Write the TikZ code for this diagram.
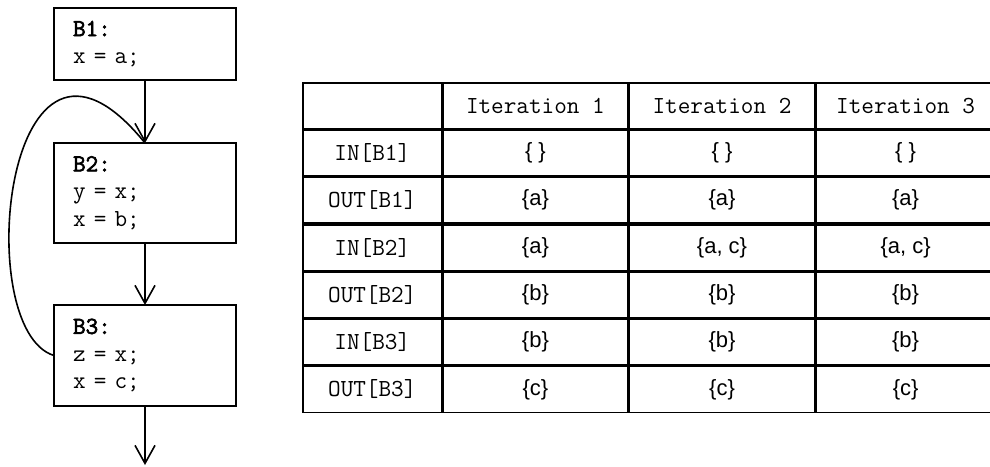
\documentclass[tikz,border=0pt]{standalone}
\usepackage{fontspec}
\setsansfont{Liberation Sans}
\setmonofont{Latin Modern Mono}[AutoFakeBold=2.5]
\usetikzlibrary{positioning,matrix,arrows.meta}

\tikzset{
  blk/.style={draw, line width=1.6pt, outer sep=0pt, minimum width=182pt, text width=144pt,
    inner xsep=19pt, align=left, font=\ttfamily\fontsize{24.5pt}{27.5pt}\selectfont},
  arr/.style={-{Straight Barb[length=18pt,width=20pt]}, line width=1.6pt},
  mono/.style={font=\ttfamily\fontsize{24.5pt}{27pt}\selectfont}
}

\begin{document}
\begin{tikzpicture}[x=1pt, y=-1pt]
\useasboundingbox (0,0) rectangle (990,466);
\node[blk, minimum height=72pt] (b1) at (145,44) {\textbf{B1:}\\x = a;};
\node[blk, minimum height=100pt, below=63pt of b1] (b2) {\textbf{B2:}\\y = x;\\x = b;};
\node[blk, minimum height=101pt, below=62pt of b2] (b3) {\textbf{B3:}\\z = x;\\x = c;};
\coordinate[below=59pt of b3] (exit);
\draw[arr] (b1) -- (b2);
\draw[arr] (b2) -- (b3);
\draw[arr] (b3) -- (exit);
\draw[line width=1.6pt] (b3.west) .. controls (-30,330) and (5,-30) .. (b2.north);

\matrix (tab) [matrix of nodes, nodes in empty cells, anchor=north west, inner sep=0pt, outer sep=0pt,
    column sep=0pt, row sep=0pt,
    nodes={draw, anchor=center, line width=1.6pt, outer sep=0pt, minimum height=45.7pt,
      font=\sffamily\fontsize{22pt}{26pt}\selectfont},
    column 1/.style={nodes={minimum width=139pt, mono}},
    column 2/.style={nodes={minimum width=184pt}},
    column 3/.style={nodes={minimum width=186pt}},
    column 4/.style={nodes={minimum width=178pt}},
    row 1/.style={nodes={mono}}] at (302,82) {
      & Iteration 1 & Iteration 2 & Iteration 3 \\
  IN[B1]  & \{ \} & \{ \} & \{ \} \\
  OUT[B1] & \{a\} & \{a\} & \{a\} \\
  IN[B2]  & \{a\} & \{a, c\} & \{a, c\} \\
  OUT[B2] & \{b\} & \{b\} & \{b\} \\
  IN[B3]  & \{b\} & \{b\} & \{b\} \\
  OUT[B3] & \{c\} & \{c\} & \{c\} \\
};
\end{tikzpicture}
\end{document}
